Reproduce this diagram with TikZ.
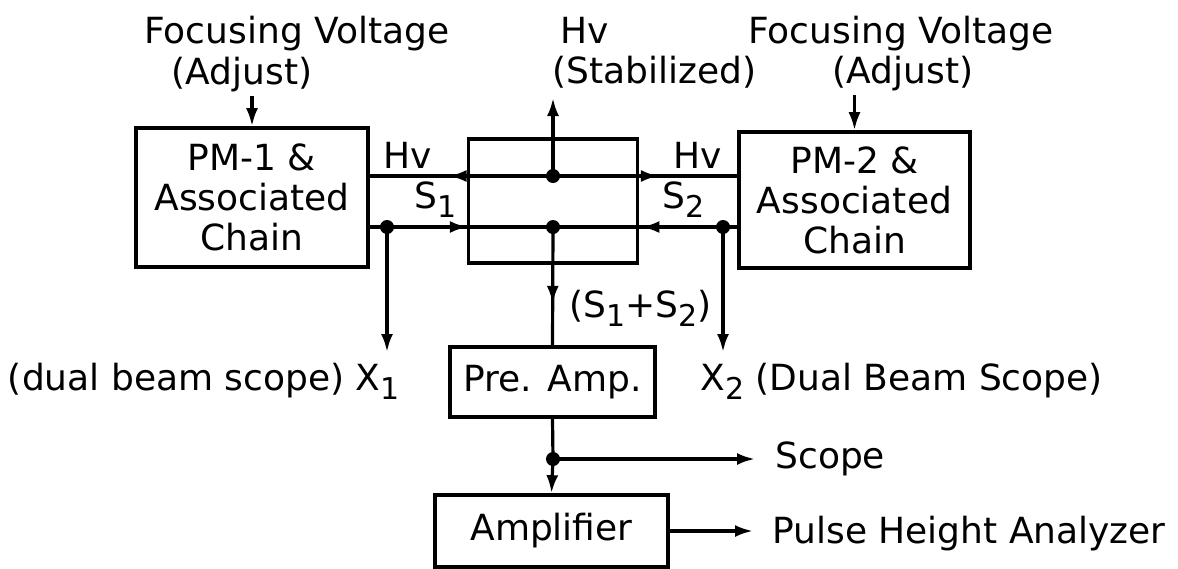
\documentclass[tikz,border=0pt]{standalone}
\usepackage{fontspec}
\setmainfont{DejaVu Sans}
\usepackage{tikz}
\usetikzlibrary{arrows.meta, decorations.markings}

\newcommand{\dn}[1]{\raisebox{-0.5ex}{\fontsize{15}{15}\selectfont #1}}

\begin{document}
\begin{tikzpicture}[
  x=0.5pt, y=-0.5pt,
  font=\fontsize{18}{20}\selectfont,
  box/.style={rectangle, draw, line width=1.8pt, align=center, inner sep=0pt},
  lbl/.style={inner sep=2pt},
  arrow/.style={->, line width=1.6pt, >={Latex[length=9pt,width=6pt]}},
  wire/.style={line width=1.6pt},
  midarrow/.style={postaction={decorate}, decoration={markings,
      mark=at position #1 with {\arrow{Latex[length=9pt,width=6pt]}}}},
  dot/.style={circle, fill, inner sep=0pt, minimum size=7pt}
]
\useasboundingbox (0,0) rectangle (1178,568);

% Boxes
\node[box, minimum width=116pt, minimum height=69.5pt] at (252,197.5) (pm1) {PM-1 \&\\Associated\\Chain};
\node[box, minimum width=84.5pt, minimum height=62pt]  at (553,201)   (mix)  {};
\node[box, minimum width=115.5pt, minimum height=68pt] at (854.5,200) (pm2) {PM-2 \&\\Associated\\Chain};
\node[box, minimum width=102.5pt, minimum height=35pt] at (552.5,382) (pre) {Pre. Amp.};
\node[box, minimum width=116.5pt, minimum height=36pt] at (551.5,531) (amp) {Amplifier};

% Top labels
\node[lbl, anchor=base]      at (297,43)  (fvl)  {Focusing Voltage};
\node[lbl, anchor=base]      at (242,84)  (adjl) {(Adjust)};
\node[lbl, anchor=base west] at (556,43)  (hvl)  {Hv};
\node[lbl, anchor=base west] at (548,83)  (stab) {(Stabilized)};
\node[lbl, anchor=base]      at (901,43)  (fvr)  {Focusing Voltage};
\node[lbl, anchor=base]      at (903,83)  (adjr) {(Adjust)};

% Line labels
\node[lbl, anchor=base]      at (408,168) (hvone) {Hv};
\node[lbl, anchor=base west] at (410,208) (sone)  {S\dn{1}};
\node[lbl, anchor=base]      at (698,168) (hvtwo) {Hv};
\node[lbl, anchor=base west] at (658,208) (stwo)  {S\dn{2}};
\node[lbl, anchor=base west] at (565,317) (sum)   {(S\dn{1}+S\dn{2})};
\node[lbl, anchor=base east] at (404,390) (xlone) {(dual beam scope) X\dn{1}};
\node[lbl, anchor=base west] at (696,390) (xltwo) {X\dn{2} (Dual Beam Scope)};
\node[lbl, anchor=base west] at (771,468) (scope) {Scope};
\node[lbl, anchor=base west] at (768,543) (pha)   {Pulse Height Analyzer};

% Junctions
\node[dot] at (553,176) (hvdot) {};
\node[dot] at (553,227) (sdot)  {};
\node[dot] at (387,227) (xonedot) {};
\node[dot] at (723,227) (xtwodot) {};
\node[dot] at (553,459) (outdot) {};

\coordinate (hvup)   at (553,98);
\coordinate (xone)   at (387,352);
\coordinate (xtwo)   at (723,352);
\coordinate (scopeend) at (755,459);
\coordinate (phaend) at (753,531);

% Connectors
\draw[arrow] (adjl.south -| pm1.north) -- (pm1.north);
\draw[arrow] (adjr.south -| pm2.north) -- (pm2.north);
\draw[arrow] (hvdot.center) -- (hvup);
\draw[wire, midarrow=0.57] (hvdot.center) -- (hvdot -| pm1.east);
\draw[wire, midarrow=0.575] (hvdot.center) -- (hvdot -| pm2.west);
\draw[wire, midarrow=0.535] (sdot -| pm1.east) -- (sdot.center);
\draw[wire, midarrow=0.52] (sdot -| pm2.west) -- (sdot.center);
\draw[arrow] (xonedot.center) -- (xone);
\draw[arrow] (xtwodot.center) -- (xtwo);
\draw[wire, midarrow=0.65] (sdot.center) -- (pre.north);
\draw[wire] (pre.south) -- (outdot.center);
\draw[arrow] (outdot.center) -- (amp.north);
\draw[arrow] (outdot.center) -- (scopeend);
\draw[arrow] (amp.east) -- (phaend);
\end{tikzpicture}
\end{document}
